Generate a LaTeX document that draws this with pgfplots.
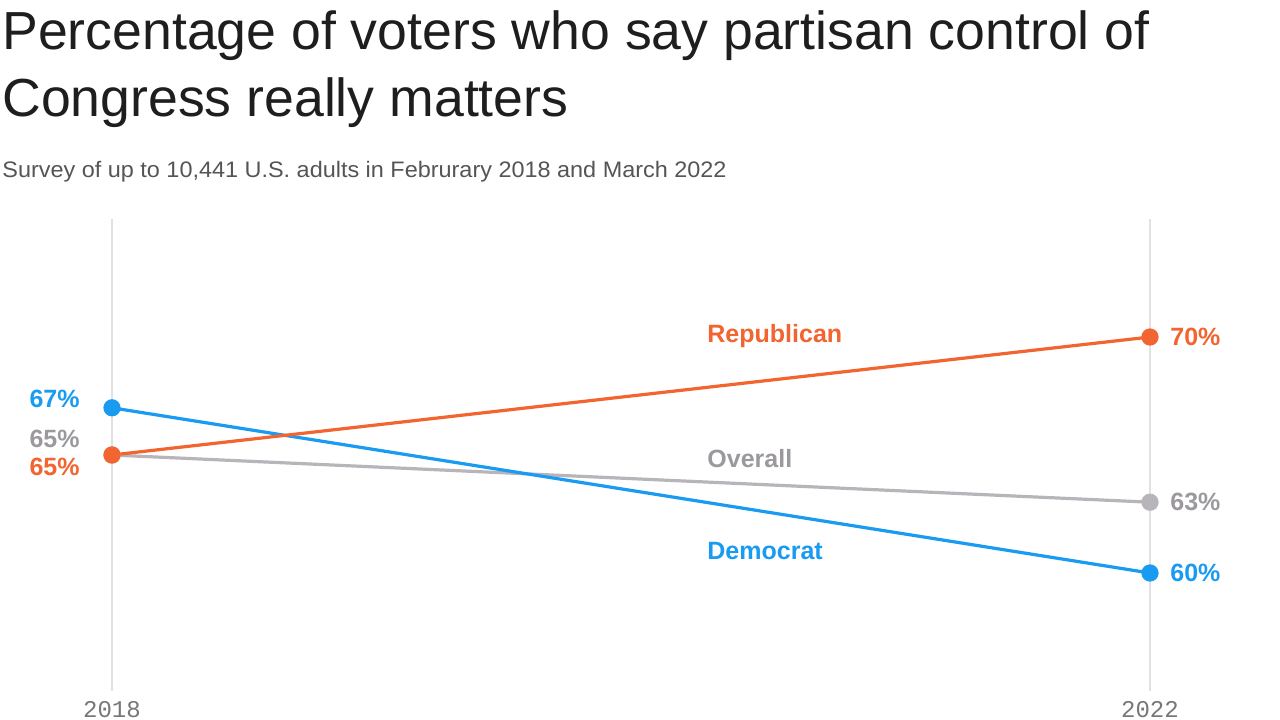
\documentclass[border=0pt]{standalone}
\usepackage{fontspec}
\setmainfont{Liberation Sans}
\newfontfamily\monof{Liberation Mono}
\usepackage{graphicx}
\usepackage{pgfplots}
\pgfplotsset{compat=1.18}
\definecolor{rep}{HTML}{F26430}
\definecolor{dem}{HTML}{1A9BF2}
\definecolor{ovr}{HTML}{B7B4BA}
\definecolor{gridc}{HTML}{E3E0E3}
\definecolor{ttl}{HTML}{1E1E1E}
\definecolor{subc}{HTML}{555555}
\definecolor{tickc}{HTML}{777777}
\newcommand{\lab}{\bfseries\fontsize{12.5}{14}\selectfont}
\begin{document}
\begin{tikzpicture}
\useasboundingbox (0,0) rectangle (640pt,359.5pt);
\fill[white] (0,0) rectangle (640pt,359.5pt);
\node[anchor=base west, inner sep=0pt, text=ttl, font=\fontsize{26.8}{30}\selectfont] at (1pt,334.5pt) {Percentage of voters who say partisan control of};
\node[anchor=base west, inner sep=0pt, text=ttl, font=\fontsize{26.8}{30}\selectfont] at (1pt,301pt) {Congress really matters};
\node[anchor=base west, inner sep=0pt, text=subc, font=\fontsize{11.2}{12}\selectfont] at (1pt,270.5pt) {\scalebox{1.046}[1]{Survey of up to 10,441 U.S. adults in Februrary 2018 and March 2022}};
\begin{axis}[
  at={(56pt,14pt)}, anchor=south west,
  scale only axis, width=519pt, height=236pt,
  xmin=2018, xmax=2022, ymin=55, ymax=75,
  axis line style={draw=none},
  xtick={2018,2022}, xticklabels={2018,2022}, ytick=\empty,
  xmajorgrids, grid style={gridc, line width=0.75pt},
  major tick length=0pt,
  xticklabel style={font=\monof\fontsize{12}{12}\selectfont, text=tickc, anchor=base, yshift=-13pt},
  clip=false,
]
\addplot[ovr, line width=1.6pt, mark=*, mark size=3.5pt] coordinates {(2018,65) (2022,63)};
\addplot[dem, line width=1.6pt, mark=*, mark size=3.5pt] coordinates {(2018,67) (2022,60)};
\addplot[rep, line width=1.6pt, mark=*, mark size=3.5pt] coordinates {(2018,65) (2022,70)};
\node[anchor=west, inner sep=0pt, text=rep, font=\lab] at (axis cs:2020.293,70.04) {Republican};
\node[anchor=west, inner sep=0pt, text=ovr!85!black, font=\lab] at (axis cs:2020.293,64.87) {Overall};
\node[anchor=west, inner sep=0pt, text=dem, font=\lab] at (axis cs:2020.293,60.93) {Democrat};
\node[anchor=east, inner sep=0pt, xshift=-16pt, yshift=4.5pt, text=dem, font=\lab] at (axis cs:2018,67) {67\%};
\node[anchor=east, inner sep=0pt, xshift=-16pt, yshift=8pt, text=ovr!85!black, font=\lab] at (axis cs:2018,65) {65\%};
\node[anchor=east, inner sep=0pt, xshift=-16pt, yshift=-6pt, text=rep, font=\lab] at (axis cs:2018,65) {65\%};
\node[anchor=west, inner sep=0pt, xshift=10pt, text=rep, font=\lab] at (axis cs:2022,70) {70\%};
\node[anchor=west, inner sep=0pt, xshift=10pt, text=ovr!85!black, font=\lab] at (axis cs:2022,63) {63\%};
\node[anchor=west, inner sep=0pt, xshift=10pt, text=dem, font=\lab] at (axis cs:2022,60) {60\%};
\end{axis}
\end{tikzpicture}
\end{document}
